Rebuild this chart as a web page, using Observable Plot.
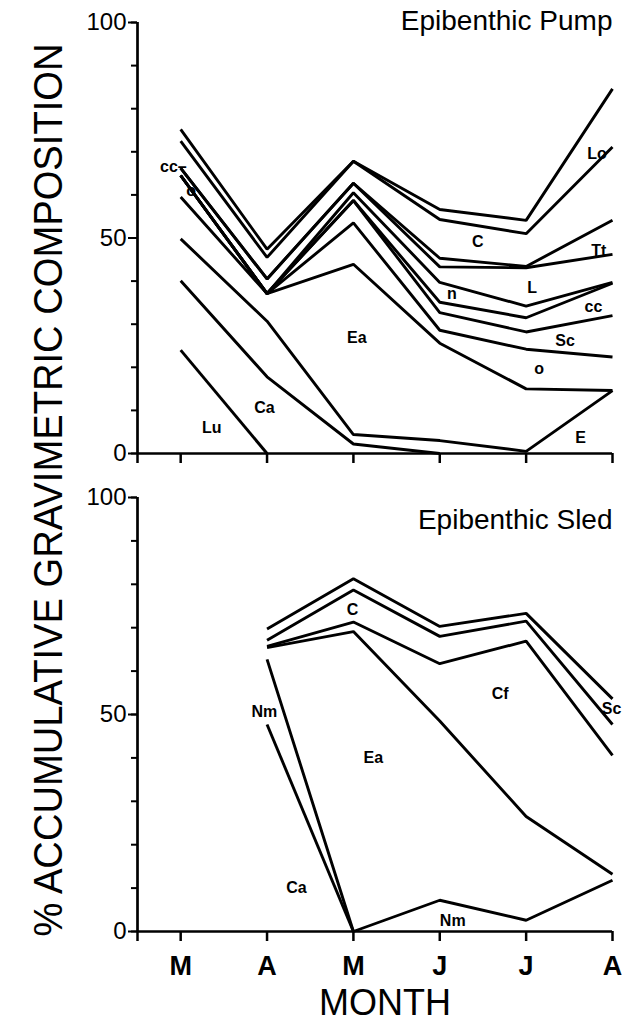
<!DOCTYPE html>
<html><head><meta charset="utf-8">
<script src="https://cdn.jsdelivr.net/npm/d3@7"></script>
<script src="https://cdn.jsdelivr.net/npm/@observablehq/plot@0.6"></script>
<style>
body{margin:0;background:#fff;}
#wrap{position:relative;width:627px;height:1026px;overflow:hidden;background:#fff;font-family:"Liberation Sans",Arial,sans-serif;}
#wrap svg{position:absolute;left:0;}
</style></head><body><div id="wrap"></div>
<script>
// ---- categories ----
const monthNums = [3, 4, 5, 6, 7, 8];
const monthLabels = ["M", "A", "M", "J", "J", "A"];
const yTicksMinor = [0, 10, 20, 30, 40, 50, 60, 70, 80, 90, 100];
const yTicksMajor = [0, 50, 100];

// ---- Epibenthic Pump: cumulative boundary lines (%), Mar..Aug ----
const pumpLu = [24.0, 0, null, null, null, null];
const pumpCa = [40.1, 17.8, 2.2, 0, null, null];
const pumpE  = [49.8, 30.7, 4.4, 3.0, 0.5, 14.6];
const pumpEa = [59.5, 37.1, 43.9, 25.6, 15.0, 14.6];
const pumpO  = [64.5, 37.1, 53.5, 28.6, 24.2, 22.4];
const pumpSc = [64.5, 37.1, 58.7, 32.7, 28.2, 32.0];
const pumpCc = [64.5, 37.1, 58.7, 35.1, 31.5, 39.5];
const pumpN  = [64.5, 37.1, 60.5, 39.7, 34.2, 39.7];
const pumpL  = [66.2, 40.5, 62.7, 43.3, 43.1, 46.2];
const pumpTt = [66.2, 40.5, 62.7, 45.3, 43.4, 54.1];
const pumpC  = [72.5, 45.5, 67.8, 54.3, 51.0, 71.1];
const pumpLo = [75.2, 47.4, 67.8, 56.6, 54.1, 84.6];

// ---- Epibenthic Sled: cumulative boundary lines (%), Mar..Aug ----
const sledCa = [null, 47.7, 0, null, null, null];
const sledNm = [null, 62.7, 0, 7.2, 2.6, 11.8];
const sledEa = [null, 65.4, 69.1, 48.5, 26.5, 13.2];
const sledCf = [null, 65.7, 71.3, 61.7, 66.9, 40.6];
const sledC  = [null, 67.1, 78.7, 68.0, 71.5, 47.7];
const sledSc = [null, 69.7, 81.3, 70.3, 73.3, 53.6];

// ---- in-plot labels (text, month position, % value) ----
const pumpLabelText  = ["Lo", "C", "Tt", "L", "n", "cc", "Sc", "o", "Ea", "E", "Ca", "Lu", "o"];
const pumpLabelMonth = [7.82, 6.44, 7.84, 7.07, 6.14, 7.78, 7.45, 7.15, 5.04, 7.63, 3.97, 3.36, 3.12];
const pumpLabelValue = [69.6, 49.0, 47.0, 38.5, 37.1, 34.1, 26.2, 19.7, 26.9, 3.7, 10.7, 6.0, 61.0];
const pumpArrowText = ["cc\u2013"];
const pumpArrowMonth = [3.07];
const pumpArrowValue = [66.4];

const sledLabelText  = ["C", "Sc", "Cf", "Nm", "Ea", "Ca", "Nm"];
const sledLabelMonth = [4.99, 7.99, 6.70, 3.97, 5.23, 4.34, 6.15];
const sledLabelValue = [74.2, 51.4, 54.8, 50.5, 40.1, 10.1, 2.5];

const titles = ["Epibenthic Pump", "Epibenthic Sled"];
const xTitle = "MONTH";
const yTitle = "% ACCUMULATIVE GRAVIMETRIC COMPOSITION";

// ---- build tables ----
function rows(seriesObj) {
  const out = [];
  for (const [name, vals] of Object.entries(seriesObj)) {
    vals.forEach((v, i) => { if (v !== null) out.push({series: name, month: monthNums[i], value: v}); });
  }
  return out;
}
function labelRows(t, m, v) { return t.map((s, i) => ({text: s, month: m[i], value: v[i]})); }

const pumpRows = rows({Lu: pumpLu, Ca: pumpCa, E: pumpE, Ea: pumpEa, o: pumpO, Sc: pumpSc, cc: pumpCc, n: pumpN, L: pumpL, Tt: pumpTt, C: pumpC, Lo: pumpLo});
const sledRows = rows({Ca: sledCa, Nm: sledNm, Ea: sledEa, Cf: sledCf, C: sledC, Sc: sledSc});

const FONT = "Liberation Sans, Arial, Helvetica, sans-serif";
const W = 627, ML = 137, MR = 15;

function panel({height, marginTop, marginBottom, data, labels, title, titleDy, bottom}) {
  const marks = [
    Plot.axisY({ticks: yTicksMinor, tickSize: 6, tickFormat: () => "", label: null, strokeWidth: 2}),
    Plot.axisY({ticks: yTicksMajor, tickSize: 9, tickPadding: 2, fontSize: 24, label: null, strokeWidth: 2}),
    Plot.axisX({ticks: [2.5, ...monthNums], tickSize: 10, tickFormat: () => "", label: null, strokeWidth: 2.5}),
    Plot.ruleX([2.5], {y1: 0, y2: 100, strokeWidth: 2.7}),
    Plot.ruleY([0], {x1: 2.5, x2: 8, strokeWidth: 2.7}),
    Plot.line(data, {x: "month", y: "value", z: "series", stroke: "black", strokeWidth: 2.9, strokeLinejoin: "miter", strokeLinecap: "butt"}),
    Plot.text(labels, {x: "month", y: "value", text: "text", fontSize: 16, fontWeight: "bold", fill: "black"}),
    Plot.text([title], {frameAnchor: "top-right", dy: titleDy, fontSize: 28, textAnchor: "end", lineAnchor: "middle", fill: "black"})
  ];
  if (bottom) {
    marks.push(Plot.axisX({ticks: monthNums, tickSize: 0, tickPadding: 24, fontSize: 27, fontWeight: "bold",
      tickFormat: d => monthLabels[monthNums.indexOf(d)], label: null}));
    marks.push(Plot.text([xTitle], {frameAnchor: "bottom", dx: 10, dy: 72, fontSize: 36, lineAnchor: "middle", fill: "black"}));
  }
  return Plot.plot({
    width: W, height, marginLeft: ML, marginRight: MR, marginTop, marginBottom,
    x: {domain: [2.5, 8]},
    y: {domain: [0, 100]},
    style: {fontFamily: FONT, color: "black", background: "transparent", overflow: "visible"},
    marks
  });
}

const wrap = document.getElementById("wrap");
const topPlot = panel({height: 470, marginTop: 22, marginBottom: 17, data: pumpRows,
  labels: labelRows(pumpLabelText, pumpLabelMonth, pumpLabelValue), title: titles[0], titleDy: -1, bottom: false});
topPlot.style.top = "0px";
wrap.appendChild(topPlot);

// arrow label "cc–" anchored at its end
const extra = Plot.plot({
  width: W, height: 470, marginLeft: ML, marginRight: MR, marginTop: 22, marginBottom: 17,
  x: {domain: [2.5, 8], axis: null}, y: {domain: [0, 100], axis: null},
  style: {fontFamily: FONT, background: "transparent"},
  marks: [Plot.text(labelRows(pumpArrowText, pumpArrowMonth, pumpArrowValue), {x: "month", y: "value", text: "text", fontSize: 16, fontWeight: "bold", textAnchor: "end", fill: "black"})]
});
extra.style.top = "0px";
wrap.appendChild(extra);

const botPlot = panel({height: 556, marginTop: 27, marginBottom: 95, data: sledRows,
  labels: labelRows(sledLabelText, sledLabelMonth, sledLabelValue), title: titles[1], titleDy: 23, bottom: true});
botPlot.style.top = "470px";
wrap.appendChild(botPlot);

// rotated y-axis title spanning both panels
const ysvg = d3.create("svg").attr("width", 100).attr("height", 1026).style("top", "0px");
ysvg.append("text")
  .attr("transform", "translate(62,490) rotate(-90)")
  .attr("text-anchor", "middle")
  .attr("font-family", FONT)
  .attr("font-size", 40)
  .attr("textLength", 893)
  .attr("lengthAdjust", "spacingAndGlyphs")
  .attr("fill", "black")
  .text(yTitle);
wrap.appendChild(ysvg.node());
</script></body></html>
